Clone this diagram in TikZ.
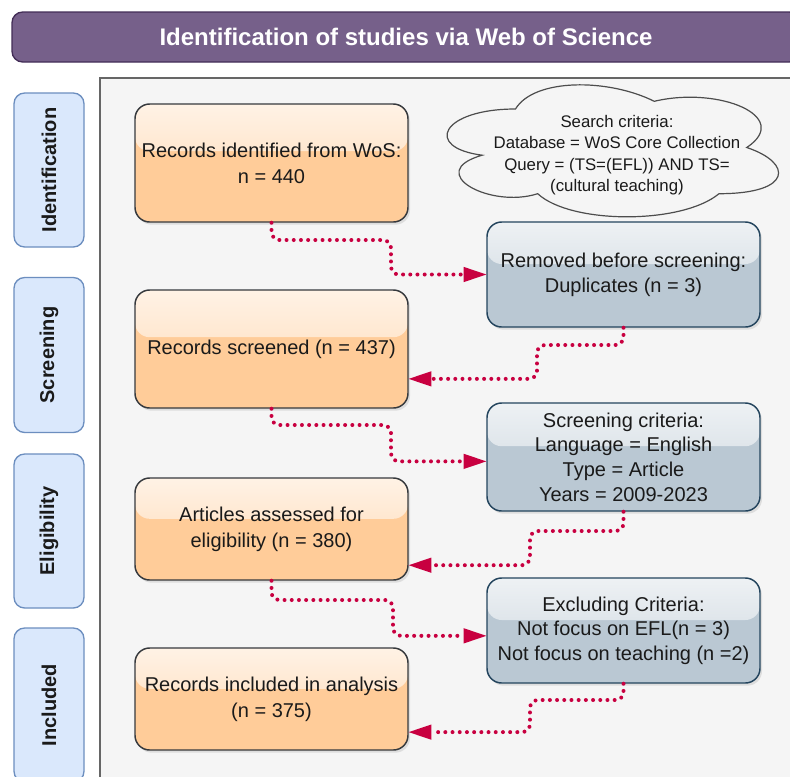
\documentclass[tikz,border=0pt]{standalone}
\usepackage{fontspec}
\setmainfont{Liberation Sans}
\usetikzlibrary{arrows.meta,shadows,calc}
\definecolor{titlebg}{HTML}{76608A}
\definecolor{titlebd}{HTML}{432D57}
\definecolor{panelbg}{HTML}{F5F5F5}
\definecolor{panelbd}{HTML}{666666}
\definecolor{lblbg}{HTML}{DAE8FC}
\definecolor{lblbd}{HTML}{6C8EBF}
\definecolor{orbg}{HTML}{FFCC99}
\definecolor{orbd}{HTML}{36393D}
\definecolor{blbg}{HTML}{BAC8D3}
\definecolor{blbd}{HTML}{23445D}
\definecolor{flowc}{HTML}{C80040}
\definecolor{txt}{HTML}{1A1A1A}
\definecolor{cloudbd}{HTML}{4D4D4D}
\begin{document}
\begin{tikzpicture}[x=0.75pt,y=-0.75pt,
  oglass/.style={path picture={\shade[top color=orbg!25!white,bottom color=orbg!78!white]
     (path picture bounding box.north west) rectangle ($(path picture bounding box.north east)!0.4!(path picture bounding box.south east)$);}},
  bglass/.style={path picture={\shade[top color=blbg!25!white,bottom color=blbg!78!white]
     (path picture bounding box.north west) rectangle ($(path picture bounding box.north east)!0.4!(path picture bounding box.south east)$);}},
  boxshadow/.style={drop shadow={opacity=0.2,shadow xshift=1.5pt,shadow yshift=-2pt}},
  obox/.style={draw=orbd,line width=1.1pt,fill=orbg,rounded corners=11pt,boxshadow,oglass,
     minimum width=204.75pt,inner sep=0pt,align=center,text=txt,font=\fontsize{15}{19.5}\selectfont},
  bbox/.style={draw=blbd,line width=1.1pt,fill=blbg,rounded corners=11pt,boxshadow,bglass,
     minimum width=204.75pt,inner sep=0pt,align=center,text=txt,font=\fontsize{15}{18.5}\selectfont},
  lbl/.style={draw=lblbd,line width=1pt,fill=lblbg,rounded corners=8pt,rotate=90,
     minimum height=52.5pt,inner sep=0pt,text=txt,font=\fontsize{15}{18}\selectfont\bfseries},
  flowline/.style={draw=flowc,line width=3pt,line cap=round,dash pattern=on 0pt off 5.4pt,
     rounded corners=6pt,-{Triangle[length=17pt,width=11.5pt,line width=0pt]}}
]
\clip (0,0) rectangle (790,776);
\fill[white] (0,0) rectangle (790,776);

% title bar
\node[draw=titlebd,line width=1pt,fill=titlebg,rounded corners=8pt,minimum width=591pt,
  minimum height=37.5pt,inner sep=0pt,text=white,font=\fontsize{18}{20}\selectfont\bfseries]
  (title) at (406,37) {Identification of studies via Web of Science};

% panel
\draw[panelbd,fill=panelbg,line width=0.8pt] (100,78) rectangle (830,820);

% stage labels
\node[lbl,minimum width=115.5pt] (lid) at (49,170) {Identification};
\node[lbl,minimum width=116.25pt] (lsc) at (49,355) {Screening};
\node[lbl,minimum width=115.5pt] (lel) at (49,531) {Eligibility};
\node[lbl,minimum width=115.5pt] (lin) at (49,705) {Included};

% cloud
\draw[cloudbd,fill=panelbg,line width=0.9pt]
  (515.5,109) .. controls (441.5,109) and (423,147.5) .. (482.2,155.2)
  .. controls (423,172.1) and (489.6,209.1) .. (537.7,193.7)
  .. controls (571,224.5) and (682,224.5) .. (719,193.7)
  .. controls (793,193.7) and (793,162.9) .. (746.75,147.5)
  .. controls (793,116.7) and (719,85.9) .. (654.25,101.3)
  .. controls (608,78.2) and (534,78.2) .. (515.5,109) -- cycle;
\node[align=center,text=txt,font=\fontsize{12.6}{16}\selectfont,inner sep=0pt] (cloudtxt) at (617,155)
  {Search criteria:\\Database = WoS Core Collection\\Query = (TS=(EFL)) AND TS=\\(cultural teaching)};

% main boxes
\node[obox,minimum height=88.5pt] (a) at (271.5,163) {Records identified from WoS:\\n = 440};
\node[obox,minimum height=88.5pt] (c) at (271.5,349) {Records screened (n = 437)};
\node[obox,minimum height=76.5pt] (e) at (271.5,529) {Articles assessed for\\eligibility (n = 380)};
\node[obox,minimum height=76.5pt] (g) at (271.5,699) {Records included in analysis\\(n = 375)};

\node[bbox,minimum height=78.75pt] (b) at (623.5,274.5) {Removed before screening:\\Duplicates (n = 3)};
\node[bbox,minimum height=81pt] (d) at (623.5,457) {Screening criteria:\\Language = English\\Type = Article\\Years = 2009-2023};
\node[bbox,minimum height=78.75pt] (f) at (623.5,630.5) {Excluding Criteria:\\Not focus on EFL(n = 3)\\Not focus on teaching (n =2)};

% connectors
\draw[flowline] (a.south) |- (391,240) |- (b.west);
\draw[flowline] (b.south) |- (537,345) |- ($(c.north east)!0.75!(c.south east)$);
\draw[flowline] (c.south) |- (391,425) |- ($(d.north west)!0.54!(d.south west)$);
\draw[flowline] (d.south) |- (530,531) |- ($(e.north east)!0.85!(e.south east)$);
\draw[flowline] (e.south) |- (393,600) |- ($(f.north west)!0.55!(f.south west)$);
\draw[flowline] (f.south) |- (530,700) |- ($(g.north east)!0.82!(g.south east)$);
\end{tikzpicture}
\end{document}
